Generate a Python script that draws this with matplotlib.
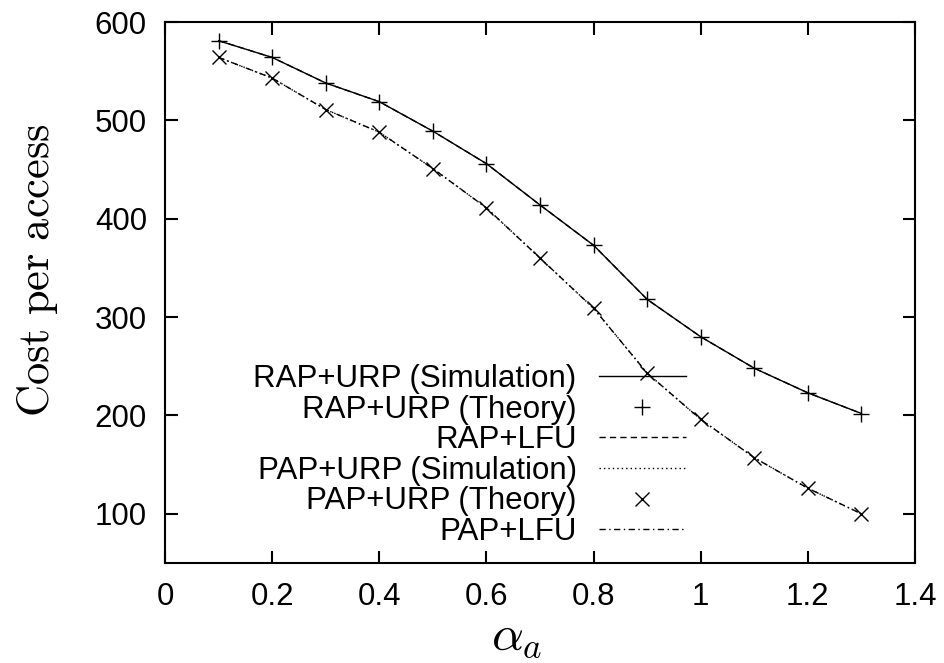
import numpy as np
import matplotlib
matplotlib.use('Agg')
import matplotlib.pyplot as plt

plt.rcParams['font.family'] = ['Liberation Sans', 'DejaVu Sans']
plt.rcParams['mathtext.fontset'] = 'cm'

# Datos
alpha = [0.1, 0.2, 0.3, 0.4, 0.5, 0.6, 0.7, 0.8, 0.9, 1.0, 1.1, 1.2, 1.3]
rap_urp_sim = [581, 564, 538, 519, 489, 456, 414, 373, 318, 280, 248, 223, 202]
rap_urp_theory = [581, 564, 538, 519, 489, 456, 414, 373, 318, 280, 248, 223, 202]
rap_lfu = [581, 564, 538, 519, 489, 456, 414, 373, 318, 280, 248, 223, 202]
pap_urp_sim = [564, 543, 511, 488, 451, 411, 360, 309, 243, 196, 157, 126, 100]
pap_urp_theory = [564, 543, 511, 488, 451, 411, 360, 309, 243, 196, 157, 126, 100]
pap_lfu = [564, 543, 511, 488, 451, 411, 360, 309, 243, 196, 157, 126, 100]

labels = ['RAP+URP (Simulation)', 'RAP+URP (Theory)', 'RAP+LFU',
          'PAP+URP (Simulation)', 'PAP+URP (Theory)', 'PAP+LFU']

fig = plt.figure(figsize=(9.45, 6.63), dpi=100)
ax = fig.add_axes([0.1746, 0.1508, 0.7937, 0.816])

lw = 1.0
ax.plot(alpha, rap_urp_sim, color='black', lw=lw, ls='-', label=labels[0])
ax.plot(alpha, rap_urp_theory, color='black', ls='none', marker='+', ms=11,
        mew=1.0, label=labels[1])
ax.plot(alpha, rap_lfu, color='black', lw=lw, dashes=(4.5, 3), label=labels[2])
ax.plot(alpha, pap_urp_sim, color='black', lw=lw, dashes=(1, 2.2), label=labels[3])
ax.plot(alpha, pap_urp_theory, color='black', ls='none', marker='x', ms=10,
        mew=1.0, label=labels[4])
ax.plot(alpha, pap_lfu, color='black', lw=lw, dashes=(4.5, 2.5, 1, 2.5), label=labels[5])

ax.set_xlim(0, 1.4)
ax.set_ylim(50, 600)
ax.set_xticks(np.arange(0, 1.41, 0.2))
ax.set_xticklabels(['0', '0.2', '0.4', '0.6', '0.8', '1', '1.2', '1.4'])
ax.set_yticks([100, 200, 300, 400, 500, 600])

for s in ax.spines.values():
    s.set_linewidth(1.5)
ax.tick_params(direction='in', length=9, width=1.5, labelsize=22.5,
               top=True, right=True)
ax.tick_params(axis='x', pad=14)
ax.tick_params(axis='y', pad=13)

ax.set_xlabel(r'$\alpha_a$', fontsize=36)
ax.xaxis.set_label_coords((517 - 165) / 750, -(660 - 563) / 541)
ax.xaxis.label.set_va('bottom')
ax.set_ylabel(r'$\mathrm{Cost\ per\ access}$', fontsize=32)
ax.yaxis.set_label_coords(-(165 - 60) / 750, (563 - 270) / 541)

ax.legend(loc='upper right', bbox_to_anchor=(686 / 945, 1 - 364 / 663),
          bbox_transform=fig.transFigure, frameon=False, markerfirst=False,
          fontsize=22.5, handlelength=2.8, handletextpad=0.7,
          labelspacing=0.02, borderpad=0, borderaxespad=0)

plt.savefig('out.png', dpi=100)
